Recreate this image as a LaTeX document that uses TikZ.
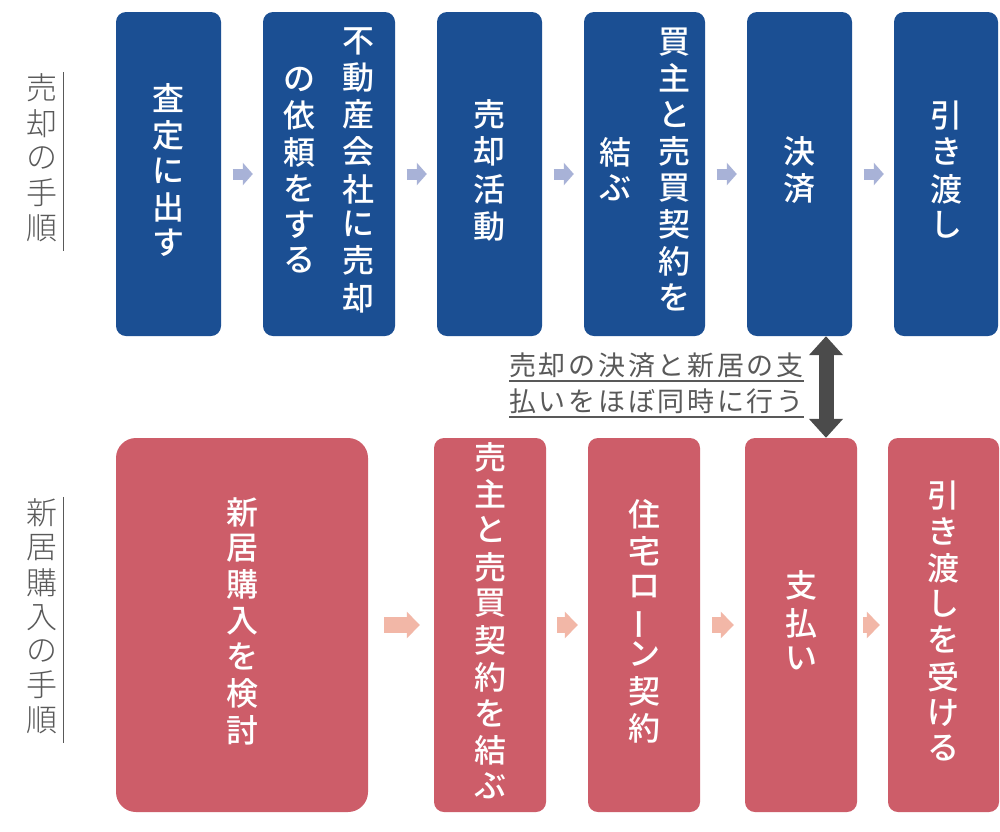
\documentclass[tikz,border=0pt]{standalone}
\usepackage{fontspec}
\usepackage{graphicx}
\usetikzlibrary{arrows.meta}
\newfontfamily\jpm{Noto Sans CJK JP}[UprightFont=* Medium]
\newfontfamily\jpl{Noto Sans CJK JP}[UprightFont=* Light]
\newfontfamily\jpn{Noto Sans CJK JP}[LetterSpace=10]
\definecolor{boxblue}{HTML}{1B4F93}
\definecolor{boxred}{HTML}{CD5D69}
\definecolor{flowblue}{HTML}{A8B2D7}
\definecolor{flowred}{HTML}{F2B7A7}
\definecolor{labelgray}{HTML}{595959}
\definecolor{dblgray}{HTML}{4B4B4B}
\newcommand\vstk[1]{\begin{tabular}[c]{@{}c@{}}#1\end{tabular}}
\newcommand\vbar{\smash{\rotatebox[origin=c]{90}{ー}}}
\tikzset{
  stepbox/.style={rounded corners=10pt, inner sep=0pt, text=white,
    font=\jpm\fontsize{32pt}{34pt}\selectfont},
  topbox/.style={stepbox, fill=boxblue, minimum height=324pt},
  botbox/.style={stepbox, fill=boxred, minimum height=374pt},
  topflow/.style={draw=flowblue, line width=11pt, -{Triangle[width=22pt,length=10pt]},
    shorten <=11.5pt, shorten >=10pt},
  botflow/.style={draw=flowred, line width=16pt, -{Triangle[width=26pt,length=13pt]}},
  steplabel/.style={text=labelgray, font=\jpl\fontsize{31pt}{33pt}\selectfont,
    inner xsep=6pt, inner ysep=1.5pt},
  labelline/.style={draw=labelgray, line width=1.3pt},
  notetext/.style={text=labelgray, font=\jpn\fontsize{27pt}{30pt}\selectfont,
    inner sep=0pt, text height=22pt, text depth=5.5pt, anchor=south west},
  noteline/.style={draw=labelgray, line width=1.4pt},
  syncarrow/.style={draw=dblgray, line width=15pt,
    {Triangle[width=33pt,length=19pt]}-{Triangle[width=33pt,length=19pt]}}
}
\begin{document}
\begin{tikzpicture}[x=1pt,y=-1pt]
\fill[white] (0,0) rectangle (1000,831);
\useasboundingbox (0,0) rectangle (1000,831);

% top row
\node[topbox, minimum width=105pt] (b1) at (168.5,174) {\vstk{査\\定\\に\\出\\す}};
\node[topbox, minimum width=132pt] (b2) at (329,174)
  {\vstk{の\\依\\頼\\を\\す\\る}\hspace{27pt}\vstk{不\\動\\産\\会\\社\\に\\売\\却}};
\node[topbox, minimum width=105pt] (b3) at (489.5,174) {\vstk{売\\却\\活\\動}};
\node[topbox, minimum width=121pt] (b4) at (644.5,174)
  {\vstk{結\\ぶ}\hspace{27pt}\vstk{買\\主\\と\\売\\買\\契\\約\\を}};
\node[topbox, minimum width=105pt] (b5) at (799.5,174) {\vstk{決\\済}};
\node[topbox, minimum width=104pt] (b6) at (946,174) {\vstk{引\\き\\渡\\し}};

\draw[topflow] (b1) -- (b2);
\draw[topflow] (b2) -- (b3);
\draw[topflow] (b3) -- (b4);
\draw[topflow] (b4) -- (b5);
\draw[topflow] (b5) -- (b6);

% bottom row
\node[botbox, minimum width=252pt, rounded corners=20pt] (p1) at (242,625) {\vstk{新\\居\\購\\入\\を\\検\\討}};
\node[botbox, minimum width=112pt] (p2) at (490,625) {\vstk{売\\主\\と\\売\\買\\契\\約\\を\\結\\ぶ}};
\node[botbox, minimum width=112pt] (p3) at (644,625) {\vstk{住\\宅\\ロ\\\vbar\\ン\\契\\約}};
\node[botbox, minimum width=112pt] (p4) at (801,625) {\vstk{支\\払\\い}};
\node[botbox, minimum width=111pt] (p5) at (943.5,625) {\vstk{引\\き\\渡\\し\\を\\受\\け\\る}};

\draw[botflow, shorten <=16pt, shorten >=14pt] (p1) -- (p2);
\draw[botflow, shorten <=11pt, shorten >=10pt] (p2) -- (p3);
\draw[botflow, shorten <=12pt, shorten >=11pt] (p3) -- (p4);
\draw[botflow, shorten <=6pt, shorten >=8pt] (p4) -- (p5);

% side labels
\node[steplabel] (l1) at (42,161.5) {\vstk{売\\却\\の\\手\\順}};
\draw[labelline] (l1.north east) -- (l1.south east);
\node[steplabel] (l2) at (42,620) {\vstk{新\\居\\購\\入\\の\\手\\順}};
\draw[labelline] (l2.north east) -- (l2.south east);

% note
\node[notetext] (n1) at (509,381) {売却の決済と新居の支};
\node[notetext] (n2) at (509,417) {払いをほぼ同時に行う};
\draw[noteline] (n1.south west) -- (n1.south east);
\draw[noteline] (n2.south west) -- (n2.south east);

% synchronisation arrow
\draw[syncarrow] (b5.south -| 826,0) -- (p4.north -| 826,0);
\end{tikzpicture}
\end{document}
